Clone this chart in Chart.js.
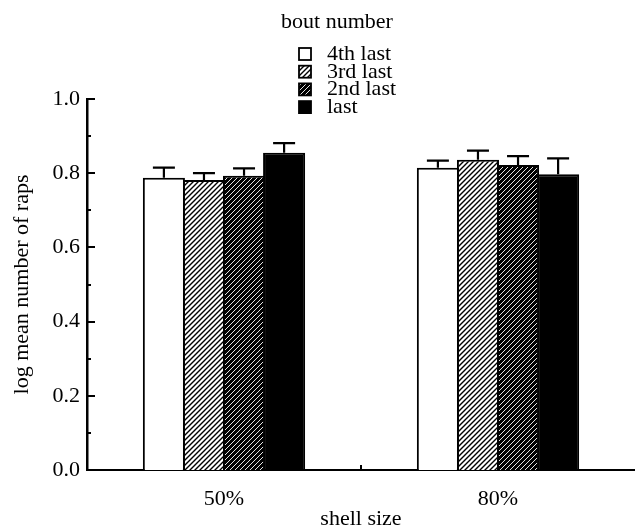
<!DOCTYPE html>
<html lang="en">
<head>
  <meta charset="UTF-8">
  <title>log mean number of raps by shell size</title>
  <script src="https://cdn.jsdelivr.net/npm/chart.js"></script>
  <style>
    html, body { margin: 0; padding: 0; background: #fff; }
    #wrap { width: 635px; height: 532px; }
  </style>
</head>
<body>
  <div id="wrap"><canvas id="myChart" width="635" height="532"></canvas></div>
  <script>
    const categories = ['50%', '80%'];
    const seriesNames = ['4th last', '3rd last', '2nd last', 'last'];

    // bar heights (log mean number of raps)
    const means4th = [0.788, 0.815];
    const means3rd = [0.782, 0.836];
    const means2nd = [0.793, 0.822];
    const meansLast = [0.855, 0.797];

    // upper error bar lengths
    const err4th = [0.027, 0.019];
    const err3rd = [0.018, 0.025];
    const err2nd = [0.020, 0.024];
    const errLast = [0.026, 0.043];

    const yTickLabels = ['0.0', '0.2', '0.4', '0.6', '0.8', '1.0'];

    const FONT = "'Liberation Serif', 'Times New Roman', serif";
    const FSIZE = 22;

    const stripes = (bg, fg, lw) => {
      const c = document.createElement('canvas');
      c.width = 5; c.height = 5;
      const g = c.getContext('2d');
      g.fillStyle = bg;
      g.fillRect(0, 0, 5, 5);
      g.strokeStyle = fg;
      g.lineWidth = lw;
      g.beginPath();
      g.moveTo(-1, 6); g.lineTo(6, -1);
      g.moveTo(-1, 1); g.lineTo(1, -1);
      g.moveTo(4, 6); g.lineTo(6, 4);
      g.stroke();
      return g.createPattern(c, 'repeat');
    };

    const fills = ['#ffffff', stripes('#ffffff', '#000000', 1.4), stripes('#000000', '#ffffff', 0.9), '#000000'];
    const allMeans = [means4th, means3rd, means2nd, meansLast];
    const allErr = [err4th, err3rd, err2nd, errLast];

    const errorBars = {
      id: 'errorBars',
      afterDatasetsDraw(chart) {
        const c = chart.ctx;
        const y = chart.scales.y;
        c.save();
        c.strokeStyle = '#000';
        c.lineWidth = 2.2;
        allErr.forEach((errs, di) => {
          const meta = chart.getDatasetMeta(di);
          meta.data.forEach((bar, i) => {
            const top = y.getPixelForValue(allMeans[di][i] + errs[i]);
            c.beginPath();
            c.moveTo(bar.x, bar.y);
            c.lineTo(bar.x, top);
            c.moveTo(bar.x - 11, top);
            c.lineTo(bar.x + 11, top);
            c.stroke();
          });
        });
        c.restore();
      }
    };

    // inward ticks on y axis (every 0.1) and the category divider on x axis
    const axisTicks = {
      id: 'axisTicks',
      afterDraw(chart) {
        const c = chart.ctx;
        const y = chart.scales.y;
        const x = chart.scales.x;
        const area = chart.chartArea;
        c.save();
        c.strokeStyle = '#000';
        c.lineWidth = 2;
        for (let i = 1; i <= 10; i++) {
          const py = Math.round(y.getPixelForValue(i / 10));
          c.beginPath();
          c.moveTo(area.left, py);
          c.lineTo(area.left + (i % 2 === 0 ? 8 : 4), py);
          c.stroke();
        }
        const mx = x.getPixelForValue(0.5);
        c.beginPath();
        c.moveTo(mx, area.bottom);
        c.lineTo(mx, area.bottom - 5);
        c.stroke();
        c.restore();
      }
    };

    const boxLegend = {
      id: 'boxLegend',
      afterDraw(chart) {
        const c = chart.ctx;
        c.save();
        c.fillStyle = '#000';
        c.font = FSIZE + 'px ' + FONT;
        c.textAlign = 'center';
        c.textBaseline = 'alphabetic';
        c.fillText('bout number', 337, 28);
        c.textAlign = 'left';
        seriesNames.forEach((name, i) => {
          const base = 60 + i * 17.7;
          c.fillStyle = fills[i];
          c.fillRect(299, base - 12, 12, 12);
          c.strokeStyle = '#000';
          c.lineWidth = 1.8;
          c.strokeRect(299, base - 12, 12, 12);
          c.fillStyle = '#000';
          c.fillText(name, 327, base);
        });
        c.restore();
      }
    };

    const myChart = new Chart(document.getElementById('myChart'), {
      type: 'bar',
      data: {
        labels: categories,
        datasets: seriesNames.map((name, i) => ({
          label: name,
          data: allMeans[i],
          backgroundColor: fills[i],
          borderColor: '#000',
          borderWidth: 2,
          borderSkipped: 'bottom',
          barPercentage: 1.05,
          categoryPercentage: 0.585
        }))
      },
      options: {
        responsive: false,
        animation: false,
        devicePixelRatio: 1,
        layout: { padding: { top: 99, left: 0, right: 0, bottom: 0 } },
        plugins: {
          legend: { display: false },
          tooltip: { enabled: false }
        },
        scales: {
          x: {
            grid: { display: false },
            border: { display: true, color: '#000', width: 2 },
            ticks: { color: '#000', font: { family: FONT, size: FSIZE }, padding: 8 },
            title: {
              display: true, text: 'shell size', color: '#000',
              font: { family: FONT, size: FSIZE }, padding: { top: 0, bottom: 0 }
            },
            afterFit: (s) => { s.height = 62; }
          },
          y: {
            min: 0,
            max: 1.0,
            grid: { display: false, drawTicks: false },
            border: { display: true, color: '#000', width: 2.5 },
            ticks: {
              stepSize: 0.1,
              color: '#000',
              font: { family: FONT, size: FSIZE },
              padding: 7,
              callback: (v, i) => (i % 2 === 0 ? yTickLabels[i / 2] : '')
            },
            title: {
              display: true, text: 'log mean number of raps', color: '#000',
              font: { family: FONT, size: FSIZE }, padding: { top: 9, bottom: 0 }
            },
            afterFit: (s) => { s.width = 87; }
          }
        }
      },
      plugins: [errorBars, axisTicks, boxLegend]
    });
  </script>
</body>
</html>
